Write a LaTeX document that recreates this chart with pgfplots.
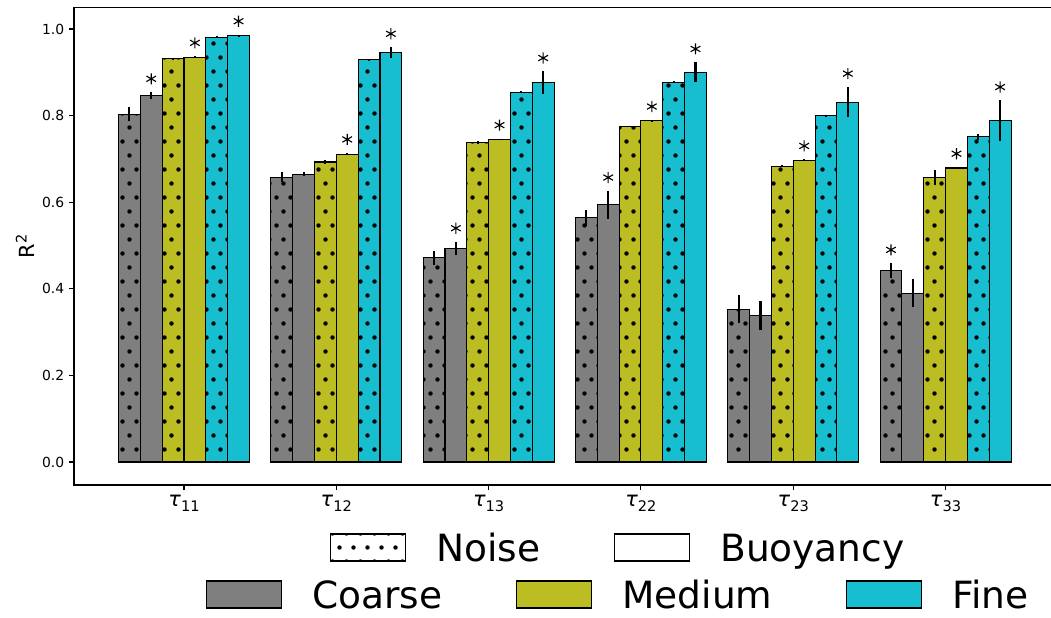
\documentclass[border=0pt]{standalone}
\usepackage{fontspec}
\setmainfont{DejaVu Sans}
\usepackage{pgfplots}
\pgfplotsset{compat=1.18}
\usepackage{pgfplotstable}
\usetikzlibrary{patterns}

\definecolor{cgray}{HTML}{7F7F7F}
\definecolor{colive}{HTML}{BCBD22}
\definecolor{ccyan}{HTML}{17BECF}

\pgfdeclarepatternformonly{mydots}{\pgfpoint{-2pt}{-2pt}}{\pgfpoint{12.1pt}{22.2pt}}{\pgfpoint{10.08pt}{20.16pt}}{%
  \pgfpathcircle{\pgfpoint{2.52pt}{9.72pt}}{1.6pt}%
  \pgfpathcircle{\pgfpoint{7.56pt}{19.8pt}}{1.6pt}%
  \pgfusepath{fill}}

\newcommand{\tl}[1]{\textit{τ}\raisebox{-3.6pt}{\fontsize{10.5}{12}\selectfont #1}}

% g: group, vn/en/sn: Noise value/error/star, vb/eb/sb: Buoyancy value/error/star
\pgfplotstableread{
g vn en sn vb eb sb
0 0.803 0.016 0 0.846 0.008 1
1 0.658 0.012 0 0.665 0.004 0
2 0.472 0.016 0 0.493 0.016 1
3 0.564 0.018 0 0.594 0.032 1
4 0.353 0.033 0 0.339 0.033 0
5 0.442 0.017 1 0.390 0.032 0
}\coarse
\pgfplotstableread{
g vn en sn vb eb sb
0 0.931 0.002 0 0.935 0.002 1
1 0.693 0.005 0 0.711 0.003 1
2 0.738 0.003 0 0.745 0.002 1
3 0.775 0.002 0 0.788 0.002 1
4 0.683 0.002 0 0.697 0.002 1
5 0.657 0.017 0 0.679 0.002 1
}\medium
\pgfplotstableread{
g vn en sn vb eb sb
0 0.981 0.002 0 0.985 0.002 1
1 0.929 0.002 0 0.946 0.012 1
2 0.854 0.002 0 0.876 0.026 1
3 0.877 0.002 0 0.900 0.023 1
4 0.800 0.002 0 0.831 0.035 1
5 0.751 0.007 0 0.788 0.047 1
}\fine

\pgfplotsset{
  mybar/.style={ybar, bar width=0.1433, bar shift=0pt, draw=black, line width=0.8pt,
    /pgfplots/error bars/y dir=both, /pgfplots/error bars/y explicit,
    /pgfplots/error bars/error mark=none,
    /pgfplots/error bars/error bar style={black, solid, line width=1.5pt}},
  mystar/.style={only marks, mark=asterisk, mark size=4pt,
    mark options={black, solid, line width=0.8pt}, forget plot},
}

\begin{document}
\begin{tikzpicture}
\path[use as bounding box] (0,0) rectangle (756.72pt,444.24pt);
\begin{axis}[
  at={(53.28pt,95.04pt)}, anchor=south west,
  scale only axis, width=706.7pt, height=343.9pt,
  xmin=-0.722, xmax=5.722, ymin=-0.053, ymax=1.05,
  xtick={0,1,2,3,4,5},
  xticklabels={\tl{11},\tl{12},\tl{13},\tl{22},\tl{23},\tl{33}},
  ytick={0,0.2,0.4,0.6,0.8,1},
  /pgf/number format/assume math mode=true,
  yticklabel style={/pgf/number format/.cd, fixed, fixed zerofill, precision=1},
  tick label style={font=\fontsize{10}{12}\selectfont},
  xticklabel style={font=\fontsize{15}{18}\selectfont},
  tick align=outside, tick pos=left, major tick length=3.5pt,
  every tick/.style={black, line width=0.8pt},
  axis line style={line width=0.8pt},
  ylabel={R\textsuperscript{2}},
  every axis y label/.style={at={(axis description cs:-0.04995,0.5)}, rotate=90, anchor=center, font=\fontsize{15}{18}\selectfont},
]
\addplot[mybar, fill=cgray, postaction={pattern=mydots}] table[x expr=\thisrow{g}-0.3583, y=vn, y error=en] {\coarse};
\addplot[mybar, fill=cgray] table[x expr=\thisrow{g}-0.2150, y=vb, y error=eb] {\coarse};
\addplot[mybar, fill=colive, postaction={pattern=mydots}] table[x expr=\thisrow{g}-0.0717, y=vn, y error=en] {\medium};
\addplot[mybar, fill=colive] table[x expr=\thisrow{g}+0.0717, y=vb, y error=eb] {\medium};
\addplot[mybar, fill=ccyan, postaction={pattern=mydots}] table[x expr=\thisrow{g}+0.2150, y=vn, y error=en] {\fine};
\addplot[mybar, fill=ccyan] table[x expr=\thisrow{g}+0.3583, y=vb, y error=eb] {\fine};

\addplot[mystar, restrict expr to domain={\thisrow{sn}}{0.5:1.5}] table[x expr=\thisrow{g}-0.3583, y expr=\thisrow{vn}+\thisrow{en}+0.031] {\coarse};
\addplot[mystar, restrict expr to domain={\thisrow{sb}}{0.5:1.5}] table[x expr=\thisrow{g}-0.2150, y expr=\thisrow{vb}+\thisrow{eb}+0.031] {\coarse};
\addplot[mystar, restrict expr to domain={\thisrow{sn}}{0.5:1.5}] table[x expr=\thisrow{g}-0.0717, y expr=\thisrow{vn}+\thisrow{en}+0.031] {\medium};
\addplot[mystar, restrict expr to domain={\thisrow{sb}}{0.5:1.5}] table[x expr=\thisrow{g}+0.0717, y expr=\thisrow{vb}+\thisrow{eb}+0.031] {\medium};
\addplot[mystar, restrict expr to domain={\thisrow{sn}}{0.5:1.5}] table[x expr=\thisrow{g}+0.2150, y expr=\thisrow{vn}+\thisrow{en}+0.031] {\fine};
\addplot[mystar, restrict expr to domain={\thisrow{sb}}{0.5:1.5}] table[x expr=\thisrow{g}+0.3583, y expr=\thisrow{vb}+\thisrow{eb}+0.031] {\fine};
\end{axis}

% legend row 1
\begin{axis}[
  at={(0pt,0pt)}, anchor=south west, scale only axis,
  width=756.72pt, height=444.24pt, hide axis,
  xmin=0, xmax=1, ymin=0, ymax=1,
  legend columns=2, legend cell align=left,
  legend style={at={(0.3140,0.1126)}, anchor=west, draw=none, fill=none,
    inner sep=0pt, outer sep=0pt, font=\fontsize{27}{32}\selectfont,
    nodes={inner sep=0pt, text height=19.7pt, text depth=0pt},
    column sep=0pt,
    /tikz/every odd column/.append style={column sep=21.6pt},
    /tikz/every even column/.append style={column sep=53.3pt}},
  legend image code/.code={\draw[#1, line width=0.8pt] (0pt,-9.72pt) rectangle (54pt,9.72pt);},
]
\addlegendimage{fill=white, draw=black, postaction={pattern=mydots}}
\addlegendentry{Noise}
\addlegendimage{fill=white, draw=black}
\addlegendentry{Buoyancy}
\end{axis}

% legend row 2
\begin{axis}[
  at={(0pt,0pt)}, anchor=south west, scale only axis,
  width=756.72pt, height=444.24pt, hide axis,
  xmin=0, xmax=1, ymin=0, ymax=1,
  legend columns=3, legend cell align=left,
  legend style={at={(0.1960,0.03647)}, anchor=west, draw=none, fill=none,
    inner sep=0pt, outer sep=0pt, font=\fontsize{27}{32}\selectfont,
    nodes={inner sep=0pt, text height=19.7pt, text depth=0pt},
    column sep=0pt,
    /tikz/every odd column/.append style={column sep=21.6pt},
    /tikz/every even column/.append style={column sep=53.3pt}},
  legend image code/.code={\draw[#1, line width=0.8pt] (0pt,-9.72pt) rectangle (54pt,9.72pt);},
]
\addlegendimage{fill=cgray, draw=black}
\addlegendentry{Coarse}
\addlegendimage{fill=colive, draw=black}
\addlegendentry{Medium}
\addlegendimage{fill=ccyan, draw=black}
\addlegendentry{Fine}
\end{axis}
\end{tikzpicture}
\end{document}
